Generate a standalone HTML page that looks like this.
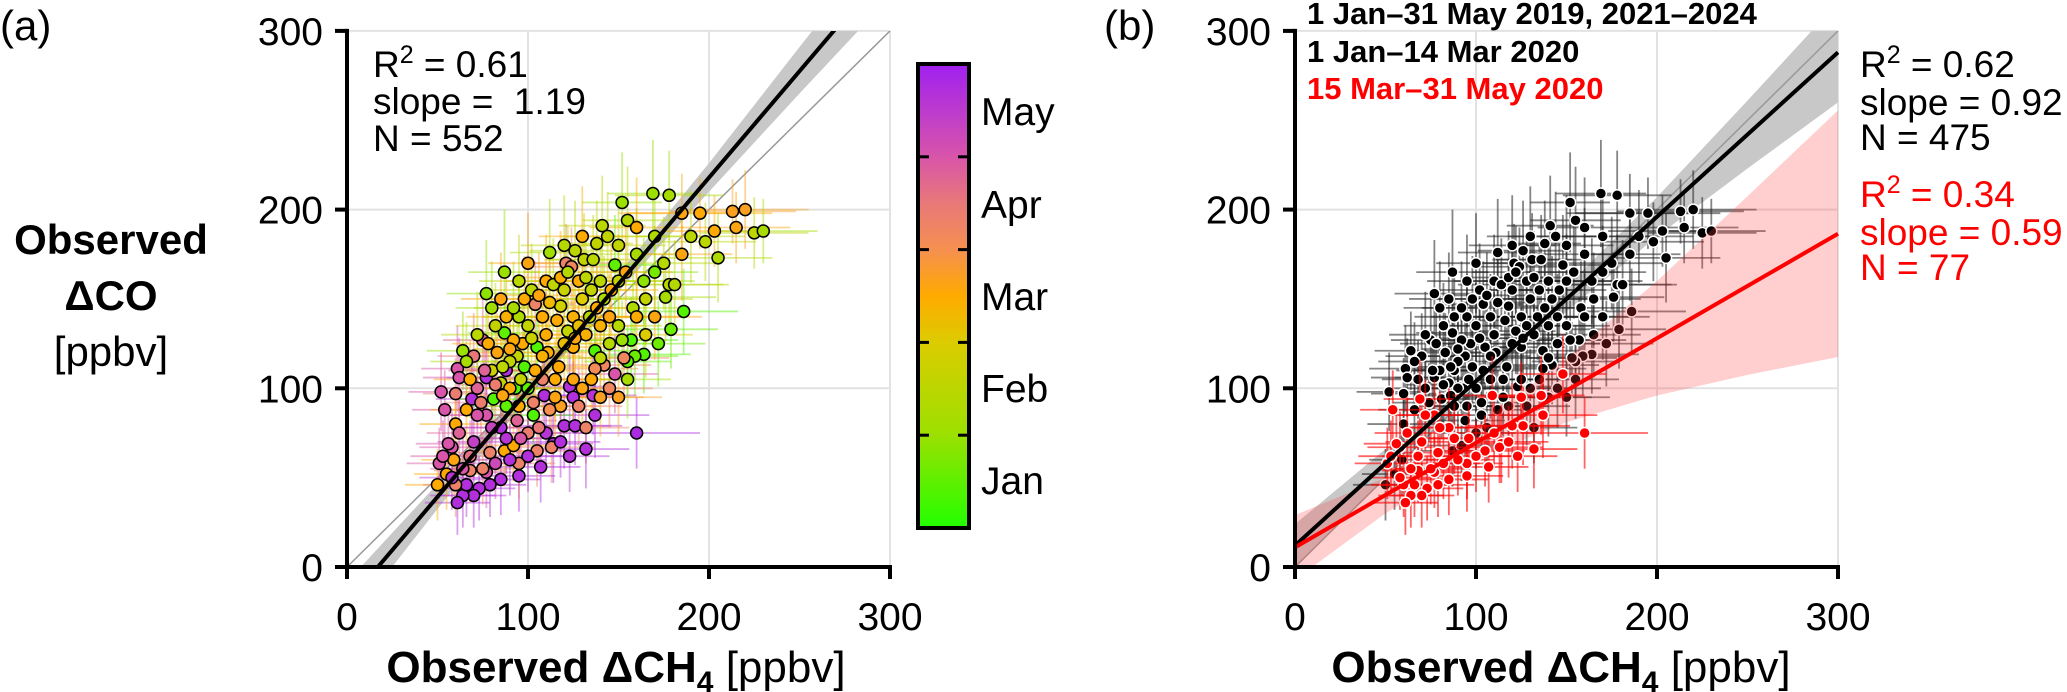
<!DOCTYPE html>
<html><head><meta charset="utf-8"><style>
html,body{margin:0;padding:0;background:#fff;}
svg{display:block;font-family:"Liberation Sans",Arial,sans-serif;}
</style></head><body>
<svg id="fig" xmlns="http://www.w3.org/2000/svg" width="2067" height="692" viewBox="0 0 2067 692">
<defs>
<linearGradient id="cbgrad" x1="0" y1="1" x2="0" y2="0">
<stop offset="0" stop-color="#22ff00"/><stop offset="0.2" stop-color="#9be000"/>
<stop offset="0.4" stop-color="#dccc00"/><stop offset="0.5" stop-color="#ffaa00"/>
<stop offset="0.6" stop-color="#f59050"/><stop offset="0.7" stop-color="#e87878"/>
<stop offset="0.8" stop-color="#d855aa"/><stop offset="1" stop-color="#a020f0"/>
</linearGradient>
<clipPath id="clipA"><rect x="347" y="31" width="544" height="536"/></clipPath>
<clipPath id="clipB"><rect x="1295" y="31" width="544" height="536"/></clipPath>
</defs>
<g id="gridA"></g>
<g id="gridB"></g>
<g id="plotA" clip-path="url(#clipA)"></g>
<g id="plotB" clip-path="url(#clipB)"></g>
<g id="axesA"></g>
<g id="axesB"></g>

<text x="0" y="40" font-size="42">(a)</text>
<text x="1104" y="40" font-size="42">(b)</text>
<g text-anchor="middle" font-size="42">
<text x="111" y="254" font-weight="bold">Observed</text>
<text x="111" y="310" font-weight="bold">ΔCO</text>
<text x="111" y="366">[ppbv]</text>
</g>
<text x="616" y="682" text-anchor="middle" font-size="44"><tspan font-weight="bold">Observed ΔCH</tspan><tspan font-weight="bold" font-size="30" dy="10">4</tspan><tspan dy="-10"> [ppbv]</tspan></text>
<text x="1561" y="682" text-anchor="middle" font-size="44"><tspan font-weight="bold">Observed ΔCH</tspan><tspan font-weight="bold" font-size="30" dy="10">4</tspan><tspan dy="-10"> [ppbv]</tspan></text>

<g font-size="37">
<text x="373" y="77">R<tspan font-size="25" dy="-14">2</tspan><tspan dy="14"> = 0.61</tspan></text>
<text x="373" y="114">slope = &#160;1.19</text>
<text x="373" y="151">N = 552</text>
</g>
<g font-size="31" font-weight="bold">
<text x="1307" y="24">1 Jan–31 May 2019, 2021–2024</text>
<text x="1307" y="62">1 Jan–14 Mar 2020</text>
<text x="1307" y="99" fill="#ff0000">15 Mar–31 May 2020</text>
</g>
<g font-size="37">
<text x="1860" y="77">R<tspan font-size="25" dy="-14">2</tspan><tspan dy="14"> = 0.62</tspan></text>
<text x="1860" y="115">slope = 0.92</text>
<text x="1860" y="150">N = 475</text>
</g>
<g font-size="37" fill="#ff0000">
<text x="1860" y="207">R<tspan font-size="25" dy="-14">2</tspan><tspan dy="14"> = 0.34</tspan></text>
<text x="1860" y="245">slope = 0.59</text>
<text x="1860" y="280">N = 77</text>
</g>

<g>
<rect x="918" y="64" width="51" height="464" fill="url(#cbgrad)" stroke="#000" stroke-width="4"/>
<g id="cbticks"></g>
<g font-size="39">
<text x="981" y="125">May</text><text x="981" y="218">Apr</text><text x="981" y="310">Mar</text><text x="981" y="402">Feb</text><text x="981" y="494">Jan</text>
</g>
</g>
</svg>
<script>
// ---- data ----
var xTicks = [0, 100, 200, 300];
var yTicks = [0, 100, 200, 300];
var tickLabels = ["0", "100", "200", "300"];
// points: [dCH4, dCO, monthIndex(0=Jan start..5=May end), xErr, yErr, lockdown2020]
var pts = [
[169,209,1.0,25,30,0],[178,208,1.2,30,25,0],[152,204,1.0,22,28,0],[185,198,2.6,35,22,0],[195,198,2.5,40,20,0],[213,199,2.7,35,18,0],[203,188,2.5,30,20,0],[198,182,1.5,28,22,0],[205,173,1.3,30,25,0],[155,194,1.4,25,30,0],[141,191,1.5,24,28,0],[144,185,1.6,26,25,0],[112,176,1.1,22,30,0],[126,177,1.5,25,28,0],[131,172,1.6,22,26,0],[136,172,1.5,25,25,0],[138,181,1.6,20,24,0],[87,165,1.0,20,35,0],[77,153,0.9,22,30,0],[121,170,3.3,25,22,0],[124,168,3.2,24,22,0],[178,158,1.5,30,28,0],[181,158,1.4,30,25,0],[176,151,1.2,28,25,0],[186,143,0.4,30,24,0],[179,133,0.6,26,22,0],[158,145,1.3,25,26,0],[164,160,0.9,28,24,0],[170,165,0.7,24,26,0],[148,169,0.5,26,28,0],
[125,140,2.4,24,26,0],[118,146,1.8,22,24,0],[130,150,2.0,22,22,0],[112,148,2.3,20,24,0],[120,155,1.7,22,25,0],[135,155,1.6,24,26,0],[108,140,2.5,22,24,0],[128,135,2.2,23,22,0],[104,147,3.3,22,24,0],[87,131,0.5,20,22,0],[75,127,3.8,22,24,0],[64,121,1.0,20,22,0],[157,127,0.4,26,24,0],[152,127,1.0,24,22,0],[164,119,0.4,26,22,0],[159,118,0.6,24,22,0],[155,115,0.5,24,20,0],[153,117,3.2,25,20,0],[148,108,4.0,24,22,1],[142,113,3.2,26,22,0],[137,111,3.1,24,20,0],[137,121,0.4,22,24,0],[140,117,1.5,24,22,0],[132,130,2.4,22,24,0],[125,123,2.5,24,22,0],[105,123,0.4,22,24,0],[97,125,2.5,20,22,0],[92,127,2.5,20,22,0],[94,118,1.6,22,20,0],[98,112,0.4,20,22,0],[111,120,2.5,22,24,0],[117,112,2.5,22,22,0],[123,101,4.7,25,22,0],[125,95,4.7,24,20,1],[136,96,4.6,24,22,1],[137,85,4.7,30,24,1],[120,79,4.7,26,24,1],[126,79,4.7,26,22,1],[160,75,4.8,35,20,1],[132,78,3.3,24,20,0],[114,69,4.7,22,22,1],[113,67,3.3,24,20,1],[132,66,4.7,24,22,1],[123,62,4.6,22,20,1],
[61,111,4.0,20,24,0],[62,106,4.0,20,22,0],[52,98,4.0,18,22,0],[54,88,4.0,18,22,1],[60,97,3.4,18,20,0],[66,88,2.5,20,22,0],[60,80,2.5,20,20,0],[69,94,4.7,20,22,1],[77,106,4.7,22,22,0],[85,103,1.6,20,22,0],[88,110,4.7,22,22,0],[93,100,0.4,20,22,0],[81,94,0.4,20,22,0],[77,85,4.0,20,20,1],[85,78,4.7,22,22,1],[95,90,2.5,22,22,0],[103,92,3.3,22,22,0],[109,96,4.7,22,22,1],[103,85,0.4,22,20,0],[58,67,4.0,18,20,1],
[107,56,4.7,22,20,1],[95,51,4.7,20,20,1],[105,65,3.3,22,20,1],[95,58,3.3,20,20,1],[87,65,2.5,20,20,0],[92,68,2.5,20,20,0],[77,53,4.0,20,20,1],[85,49,4.7,22,20,1],[79,46,4.7,20,18,1],[73,44,4.7,20,18,1],[70,40,4.7,18,18,1],[64,40,4.7,18,18,1],[61,36,4.7,18,18,1],[66,46,4.7,18,18,1],[50,46,2.5,18,20,0],[55,52,2.5,18,20,0],[59,60,2.6,18,20,0],[51,58,4.0,18,20,1],[53,62,4.0,18,20,1],[56,69,4.0,18,20,1],[60,46,3.3,18,18,1],[75,55,3.3,20,20,1],[68,54,3.3,20,18,1],[79,64,3.3,20,20,1],
[215,190,2.6,30,20,0],[220,200,2.7,35,22,0],[225,187,1.5,30,20,0],[230,188,1.2,30,18,0],
[100,135,1.6,22,24,0],[110,130,2.5,22,24,0],[90,115,1.6,20,22,0],[115,105,2.5,22,22,0],[100,100,0.5,22,22,0],[130,100,2.6,24,22,0],[145,125,1.4,24,22,0],[83,120,2.6,20,22,0],[72,100,3.8,20,22,0],[95,140,1.3,20,24,0],[140,160,1.5,24,24,0],[160,175,1.2,26,26,0],[170,185,1.3,26,26,0],[110,160,2.5,22,26,0],[80,110,1.8,20,22,0],[70,118,3.5,20,24,0],[100,75,3.4,22,20,0],[118,90,2.7,22,22,0],[140,95,2.7,24,22,0],[88,90,0.5,20,22,0],
[72,130,1.5,20,24,0],[78,125,2.5,20,22,0],[82,135,1.6,22,24,0],[88,140,2.4,22,24,0],[92,145,1.2,22,26,0],[98,150,2.5,22,24,0],[102,155,1.5,22,26,0],[106,152,2.6,22,24,0],[114,158,1.6,24,26,0],[118,162,2.5,24,26,0],[122,165,1.4,24,26,0],[128,160,2.5,24,24,0],[132,162,1.5,24,26,0],[116,138,2.5,22,24,0],[122,132,1.6,22,24,0],[126,128,2.6,22,22,0],[134,140,1.5,24,24,0],[138,145,2.5,24,24,0],[142,150,1.3,24,24,0],[146,155,2.5,26,26,0],[150,160,1.6,26,26,0],[154,165,2.6,26,26,0],[108,118,2.4,22,22,0],[104,110,2.5,22,22,0],[96,105,1.6,20,22,0],[90,100,2.5,20,22,0],[86,96,2.6,20,22,0],[82,102,3.4,20,22,0],[76,110,3.8,20,22,0],[66,115,1.2,20,22,0],[68,105,2.5,20,22,0],[74,92,3.4,20,22,0],[72,85,4.0,20,20,1],[80,78,4.3,20,20,1],[88,72,4.6,20,20,1],[96,72,4.0,22,20,1],[100,62,4.7,22,20,1],[110,75,4.6,22,20,1],[118,70,4.7,22,20,1],[90,60,4.7,20,20,1],[82,58,4.2,20,20,1],[64,55,4.0,18,20,1],[58,50,4.6,18,18,1],[68,62,3.6,20,20,1],[62,75,3.8,18,20,1],[70,70,4.4,20,20,1],[145,140,2.6,24,24,0],[150,135,1.4,24,24,0],[160,140,2.5,26,24,0],[165,150,1.6,26,26,0],[170,140,2.6,26,24,0],[175,170,1.4,28,26,0],[185,175,2.6,28,26,0],[190,185,1.5,30,26,0],[160,190,2.5,26,28,0],[150,180,1.6,26,28,0],[130,185,2.5,24,28,0],[120,180,1.4,24,28,0],[100,170,2.6,22,28,0],[95,160,1.5,22,26,0],[85,150,2.6,22,26,0],[80,145,1.1,20,26,0],[115,95,2.6,22,22,0],[125,105,2.6,24,22,0],[135,105,2.5,24,22,0],[145,100,3.2,24,22,0],[150,95,2.7,24,22,0],[155,105,1.2,24,22,0],[165,130,2.0,26,24,0],[172,125,0.6,26,24,0],[108,105,3.3,22,22,0],[112,88,3.0,22,22,0],[128,90,3.3,24,22,0],[106,78,3.5,22,20,0],[94,82,3.8,22,20,0],[140,135,2.4,24,24,0],[102,128,1.7,22,24,0],[90,122,2.6,20,24,0],[86,112,1.5,20,22,0],[120,125,2.2,22,24,0]
];
// fit lines / confidence bands sampled at these x nodes
var bandX = [0, 50, 100, 150, 200, 250, 300];
var fitA = [-20.3, 39.5, 99, 159, 218, 278, 337];
var hwA = [12, 7, 4.5, 5, 8, 13, 18];
var fitBlack = [12, 58, 104, 150, 196, 242, 288];
var hwBlack = [12, 8, 6, 7, 11, 19, 28];
var fitRed = [11, 40, 69.5, 99, 128, 157.5, 186.5];
var hwRed = [18, 10, 9, 18, 32, 50, 69];
var cbTicks = [1, 2, 3, 4];

// ---- helpers ----
var NS = "http://www.w3.org/2000/svg";
var Y0 = 567, SX = 1.81, SY = 1.787;
function xA(v){return 347 + v*SX;}
function xB(v){return 1295 + v*SX;}
function yS(v){return Y0 - v*SY;}
function mk(tag, parent, attrs){var e=document.createElementNS(NS,tag);for(var k in attrs)e.setAttribute(k,attrs[k]);parent.appendChild(e);return e;}
var stops=[[0,[34,255,0]],[1,[155,224,0]],[2,[220,204,0]],[2.5,[255,170,0]],[3,[245,144,80]],[3.5,[232,120,120]],[4,[216,85,170]],[5,[160,32,240]]];
function cmap(m){for(var i=1;i<stops.length;i++){if(m<=stops[i][0]){var a=stops[i-1],b=stops[i],t=(m-a[0])/(b[0]-a[0]);var c=a[1].map(function(v,j){return Math.round(v+(b[1][j]-v)*t);});return "rgb("+c.join(",")+")";}}return "rgb(160,32,240)";}

function drawGridAxes(gGrid, gAxes, xf, prefix){
  for (var i=1;i<xTicks.length;i++){
    var gl = mk("line", gGrid, {x1:xf(xTicks[i]),x2:xf(xTicks[i]),y1:yS(0),y2:yS(300),stroke:"#e2e2e2","stroke-width":2});
    
    
    var gh = mk("line", gGrid, {x1:xf(0),x2:xf(300),y1:yS(yTicks[i]),y2:yS(yTicks[i]),stroke:"#e2e2e2","stroke-width":2});
    
    
  }
  var ya = mk("line", gAxes, {x1:xf(0),x2:xf(0),y1:yS(300)-2,y2:yS(0)+2,stroke:"#000","stroke-width":4});
  
  
  var xa = mk("line", gAxes, {x1:xf(0)-2,x2:xf(300)+2,y1:yS(0),y2:yS(0),stroke:"#000","stroke-width":4});
  
  
  for (var j=0;j<yTicks.length;j++){
    var t1 = mk("line", gAxes, {x1:xf(0)-12,x2:xf(0),y1:yS(yTicks[j]),y2:yS(yTicks[j]),stroke:"#000","stroke-width":4});
    
    
    var l1 = mk("text", gAxes, {x:xf(0)-24,y:yS(yTicks[j])+14,"text-anchor":"end","font-size":39});
    l1.textContent = tickLabels[j];
    
    
    var t2 = mk("line", gAxes, {x1:xf(xTicks[j]),x2:xf(xTicks[j]),y1:yS(0),y2:yS(0)+12,stroke:"#000","stroke-width":4});
    
    
    var l2 = mk("text", gAxes, {x:xf(xTicks[j]),y:630,"text-anchor":"middle","font-size":39});
    l2.textContent = tickLabels[j];
    
    
  }
}
function bandPath(xf, fit, hw){
  var up=[],lo=[];
  for (var i=0;i<bandX.length;i++){up.push(xf(bandX[i])+","+yS(fit[i]+hw[i]));}
  for (var k=bandX.length-1;k>=0;k--){lo.push(xf(bandX[k])+","+yS(fit[k]-hw[k]));}
  return "M"+up.join(" L")+" L"+lo.join(" L")+" Z";
}
function fitLine(g, xf, fit, color, w, name){
  var n=bandX.length-1;
  var l = mk("line", g, {x1:xf(bandX[0]),y1:yS(fit[0]),x2:xf(bandX[n]),y2:yS(fit[n]),stroke:color,"stroke-width":w});
  
  
}
function oneToOne(g, xf){
  var l = mk("line", g, {x1:xf(0),y1:yS(0),x2:xf(300),y2:yS(300),stroke:"#999","stroke-width":1.5});
  
  
}
function errBars(g, xf, p, color){
  var e1 = mk("line", g, {x1:xf(p[0]-p[3]),x2:xf(p[0]+p[3]),y1:yS(p[1]),y2:yS(p[1]),stroke:color,"stroke-width":1.8});
  
  
  var e2 = mk("line", g, {x1:xf(p[0]),x2:xf(p[0]),y1:yS(p[1]-p[4]),y2:yS(p[1]+p[4]),stroke:color,"stroke-width":1.8});
  
  
}

// ---- panel A ----
var gA = document.getElementById("plotA");
drawGridAxes(document.getElementById("gridA"), document.getElementById("axesA"), xA, "panel-a");
var bA = mk("path", gA, {d:bandPath(xA, fitA, hwA), fill:"#c8c8c8"});


oneToOne(gA, xA);
pts.forEach(function(p){
  var c = cmap(p[2]);
  var g = mk("g", gA, {opacity:0.45});
  
  
  errBars(g, xA, p, c);
});
pts.forEach(function(p){
  var c = mk("circle", gA, {cx:xA(p[0]),cy:yS(p[1]),r:6,fill:cmap(p[2]),stroke:"#000","stroke-width":1.5});
  
  
});
fitLine(gA, xA, fitA, "#000", 4, "regression-line-a");

// ---- panel B ----
var gB = document.getElementById("plotB");
drawGridAxes(document.getElementById("gridB"), document.getElementById("axesB"), xB, "panel-b");
var bB = mk("path", gB, {d:bandPath(xB, fitBlack, hwBlack), fill:"#c8c8c8"});


oneToOne(gB, xB);
pts.forEach(function(p){
  if (p[5]) return;
  var g = mk("g", gB, {opacity:0.55});
  
  
  errBars(g, xB, p, "#222");
});
pts.forEach(function(p){
  if (p[5]) return;
  var c = mk("circle", gB, {cx:xB(p[0]),cy:yS(p[1]),r:5.5,fill:"#000",stroke:"#fff","stroke-width":1.5});
  
  
});
var rB = mk("path", gB, {d:bandPath(xB, fitRed, hwRed), fill:"#ff3b3b","fill-opacity":0.25});


pts.forEach(function(p){
  if (!p[5]) return;
  var g = mk("g", gB, {opacity:0.6});
  
  
  errBars(g, xB, p, "#ff0000");
});
pts.forEach(function(p){
  if (!p[5]) return;
  var c = mk("circle", gB, {cx:xB(p[0]),cy:yS(p[1]),r:5.5,fill:"#ff0000",stroke:"#fff","stroke-width":1.5});
  
  
});
fitLine(gB, xB, fitBlack, "#000", 4, "regression-line-black");
fitLine(gB, xB, fitRed, "#ff0000", 4, "regression-line-red");

// ---- colorbar ticks ----
var cbt = document.getElementById("cbticks");
cbTicks.forEach(function(t){
  var y = 528 - t*92.8;
  var a = mk("line", cbt, {x1:918,x2:929,y1:y,y2:y,stroke:"#000","stroke-width":3});
  
  
  var b = mk("line", cbt, {x1:958,x2:969,y1:y,y2:y,stroke:"#000","stroke-width":3});
  
  
});
</script>
</body></html>
